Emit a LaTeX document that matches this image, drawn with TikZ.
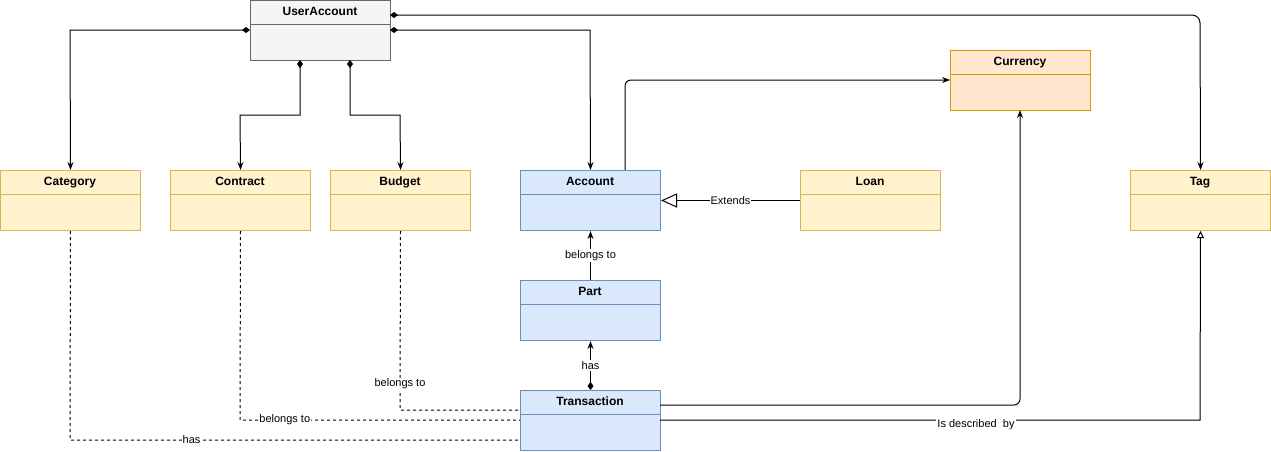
\documentclass[tikz,border=0pt]{standalone}
\usepackage{fontspec}
\setmainfont{Liberation Sans}
\usetikzlibrary{arrows.meta}
\definecolor{yf}{HTML}{FFF2CC}\definecolor{ys}{HTML}{D6B656}
\definecolor{bf}{HTML}{DAE8FC}\definecolor{bs}{HTML}{6C8EBF}
\definecolor{of}{HTML}{FFE6CC}\definecolor{os}{HTML}{D79B00}
\definecolor{gf}{HTML}{F5F5F5}\definecolor{gs}{HTML}{666666}
\begin{document}
\begin{tikzpicture}[x=1pt,y=-1pt,line width=1pt,
 lbl/.style={fill=white,inner sep=1pt,font=\fontsize{11}{13}\selectfont},
 comp/.style={{Diamond[length=8pt,width=6pt]}-{Stealth[length=8pt,width=6pt]}},
 arr/.style={-{Stealth[length=8pt,width=6pt]}}]
\useasboundingbox (0,0) rectangle (1271,451);
\newcommand{\cls}[7]{%
 \node[draw=#5,fill=#4,minimum width=140pt,minimum height=60pt,inner sep=0pt,anchor=north west] (#1) at (#2,#3) {};
 \draw[#5] (#2,#3+24) -- (#2+140,#3+24);
 \node[font=\fontsize{12}{14}\selectfont\bfseries,anchor=base] at (#2+70,#3+15) {#6};}
\cls{ua}{250}{0}{gf}{gs}{UserAccount}{}
\cls{cur}{950}{50}{of}{os}{Currency}{}
\cls{cat}{0}{170}{yf}{ys}{Category}{}
\cls{con}{170}{170}{yf}{ys}{Contract}{}
\cls{bud}{330}{170}{yf}{ys}{Budget}{}
\cls{acc}{520}{170}{bf}{bs}{Account}{}
\cls{loan}{800}{170}{yf}{ys}{Loan}{}
\cls{tag}{1130}{170}{yf}{ys}{Tag}{}
\cls{part}{520}{280}{bf}{bs}{Part}{}
\cls{tr}{520}{390}{bf}{bs}{Transaction}{}
\draw[comp] (250,30) -- (70,30) -- (cat.north);
\draw[comp] (300,60) -- (300,115) -- (240,115) -- (con.north);
\draw[comp] (350,60) -- (350,115) -- (400,115) -- (bud.north);
\draw[comp] (390,30) -- (590,30) -- (acc.north);
\draw[comp,rounded corners=8pt] (390,15) -- (1200,15) -- (tag.north);
\draw[arr,rounded corners=6pt] (625,170) -- (625,80) -- (950,80);
\draw[-{Triangle[open,length=16pt,width=14pt]}] (loan.west) -- node[lbl]{Extends} (acc.east);
\draw[arr] (part.north) -- node[lbl]{belongs to} (acc.south);
\draw[comp] (tr.north) -- node[lbl]{has} (part.south);
\draw[arr,rounded corners=6pt] (660,405) -- (1020,405) -- (1020,110);
\draw[-{Triangle[open,length=7pt,width=7pt]}] (660,420) -- (1200,420) -- (tag.south);
\node[lbl] at (976,425) {Is described\ \ by};
\draw[dashed] (bud.south) -- (400,410) -- (520,410);
\node[lbl] at (400,384) {belongs to};
\draw[dashed] (con.south) -- (240,420) -- node[lbl,pos=0.16]{belongs to} (520,420);
\draw[dashed] (cat.south) -- (70,440) -- node[lbl,pos=0.27]{has} (520,440);
\end{tikzpicture}
\end{document}
